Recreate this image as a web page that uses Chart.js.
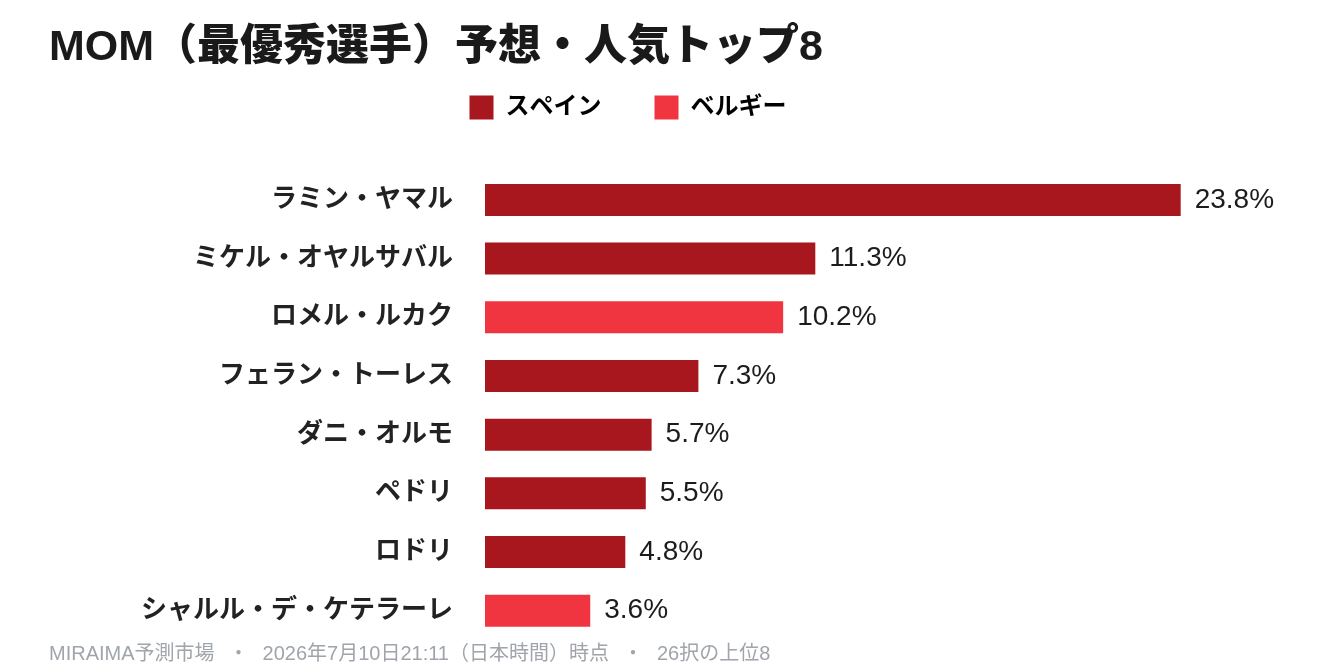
<!DOCTYPE html>
<html lang="ja">
<head>
<meta charset="utf-8">
<script src="https://cdn.jsdelivr.net/npm/chart.js@4.4.1/dist/chart.umd.min.js"></script>
<style>
  html, body { margin: 0; padding: 0; background: #ffffff; }
  #wrap { width: 1344px; height: 672px; position: relative; }
</style>
</head>
<body>
<div id="wrap"><canvas id="c"></canvas></div>
<script>
const players = ['ラミン・ヤマル', 'ミケル・オヤルサバル', 'ロメル・ルカク', 'フェラン・トーレス', 'ダニ・オルモ', 'ペドリ', 'ロドリ', 'シャルル・デ・ケテラーレ'];
const values = [23.8, 11.3, 10.2, 7.3, 5.7, 5.5, 4.8, 3.6];
const teams = ['スペイン', 'スペイン', 'ベルギー', 'スペイン', 'スペイン', 'スペイン', 'スペイン', 'ベルギー'];
const teamNames = ['スペイン', 'ベルギー'];
const teamColors = { 'スペイン': '#a8161e', 'ベルギー': '#f03440' };
const titleText = 'MOM（最優秀選手）予想・人気トップ8';
const footerText = 'MIRAIMA予測市場\u2002\u2009・\u2002\u20092026年7月10日21:11（日本時間）時点\u2002\u2009・\u2002\u200926択の上位8';

const FONT = '"Liberation Sans", "Noto Sans CJK JP", sans-serif';

const legendGap = {
  id: 'legendGap',
  beforeLayout(chart) {
    const lg = chart.legend;
    if (lg && !lg._gapPatched) {
      const orig = lg.fit;
      lg.fit = function () { orig.call(this); this.height += 41; };
      lg._gapPatched = true;
    }
  }
};

const valueLabels = {
  id: 'valueLabels',
  afterDatasetsDraw(chart) {
    const ctx = chart.ctx;
    const meta = chart.getDatasetMeta(0);
    ctx.save();
    ctx.font = 'normal 28px ' + FONT;
    ctx.fillStyle = '#1c1c1c';
    ctx.textAlign = 'left';
    ctx.textBaseline = 'middle';
    meta.data.forEach((bar, i) => {
      ctx.fillText(values[i].toFixed(1) + '%', bar.x + 14, bar.y);
    });
    ctx.restore();
  }
};

new Chart(document.getElementById('c'), {
  type: 'bar',
  data: {
    labels: players,
    datasets: [{
      data: values,
      backgroundColor: teams.map(t => teamColors[t]),
      borderWidth: 0,
      barPercentage: 0.545,
      categoryPercentage: 1
    }]
  },
  plugins: [legendGap, valueLabels],
  options: {
    indexAxis: 'y',
    responsive: true,
    maintainAspectRatio: false,
    animation: false,
    layout: { padding: { left: 49, right: 137, top: 0, bottom: 0 } },
    scales: {
      x: {
        display: false,
        min: 0,
        max: 24.7
      },
      y: {
        grid: { display: false, drawTicks: true, tickLength: 32 },
        border: { display: false },
        ticks: {
          padding: 0,
          color: '#222222',
          font: { family: FONT, size: 26, weight: 'bold' }
        },
        afterFit(scale) { scale.width = 436; }
      }
    },
    plugins: {
      tooltip: { enabled: false },
      title: {
        display: true,
        text: titleText,
        align: 'start',
        color: '#1a1a1a',
        font: { family: FONT, size: 43, weight: 900, lineHeight: 1.2 },
        padding: { top: 22, bottom: 13.5 }
      },
      subtitle: {
        display: true,
        text: footerText,
        position: 'bottom',
        align: 'start',
        color: '#a0a4ab',
        font: { family: FONT, size: 20, weight: 'normal', lineHeight: 1.2 },
        padding: { top: 2, bottom: 6 }
      },
      legend: {
        display: true,
        position: 'top',
        align: 'center',
        onClick: null,
        labels: {
          boxWidth: 24,
          boxHeight: 24,
          padding: 8.5,
          color: '#222222',
          font: { family: FONT, size: 24, weight: 'bold' },
          generateLabels() {
            const items = [];
            teamNames.forEach((t, i) => {
              if (i > 0) {
                items.push({ text: '', fillStyle: 'rgba(0,0,0,0)', strokeStyle: 'rgba(0,0,0,0)', lineWidth: 0, hidden: false });
              }
              items.push({ text: t, fillStyle: teamColors[t], strokeStyle: teamColors[t], lineWidth: 0, hidden: false });
            });
            return items;
          }
        }
      }
    }
  }
});
</script>
</body>
</html>
